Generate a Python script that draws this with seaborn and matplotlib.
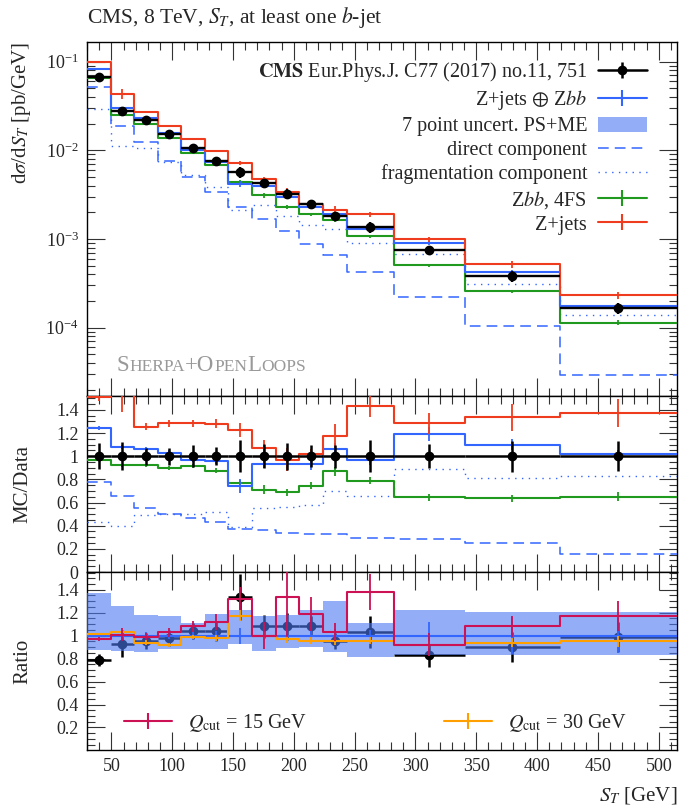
import numpy as np
import matplotlib
matplotlib.use("Agg")
import matplotlib.pyplot as plt
from matplotlib.lines import Line2D
from matplotlib.patches import Patch
from matplotlib.ticker import MultipleLocator, LogLocator, NullFormatter, FuncFormatter
import seaborn as sns

# bin edges in S_T [GeV]
edges = [30, 49.4, 68.6, 88, 107.5, 126.8, 146, 165.5, 185, 204.3, 224, 243.3, 282, 340.5, 418.5, 515]

# top panel: dsigma/dS_T [pb/GeV]
data_xs = [0.0664, 0.0276, 0.0219, 0.0151, 0.0105, 0.0076, 0.0057, 0.0043, 0.00325, 0.00248,
           0.0018, 0.00136, 0.00076, 0.00038, 0.000166]
zjets_zbb = [0.0823, 0.0296, 0.0234, 0.0155, 0.0102, 0.0073, 0.0042, 0.0040, 0.0030, 0.0023,
             0.0019, 0.00131, 0.0009, 0.000425, 0.000174]
direct = [0.052, 0.0188, 0.0123, 0.0076, 0.0050, 0.0034, 0.0023, 0.0017, 0.00122, 0.00087,
          0.00066, 0.00042, 0.00022, 0.000104, 2.9e-5]
frag = [0.029, 0.0113, 0.0107, 0.0074, 0.0052, 0.0039, 0.0021, 0.0024, 0.0018, 0.00143,
        0.00128, 0.0009, 0.00068, 0.00031, 0.00014]
zbb_4fs = [0.0646, 0.0253, 0.0200, 0.0136, 0.0094, 0.0068, 0.0044, 0.0031, 0.0023, 0.0019,
           0.00163, 0.00108, 0.000505, 0.000257, 0.000114]
zjets = [0.098, 0.043, 0.0271, 0.0188, 0.0133, 0.0098, 0.0072, 0.0047, 0.0034, 0.0025,
         0.00215, 0.0019, 0.00099, 0.00052, 0.000232]

# middle panel: MC / Data
data_relerr = [0.11, 0.12, 0.075, 0.075, 0.095, 0.08, 0.14, 0.105, 0.115, 0.095, 0.10, 0.14, 0.105, 0.135, 0.13]
r_zjets = [1.51, 1.58, 1.255, 1.285, 1.285, 1.28, 1.23, 1.07, 0.97, 1.015, 1.175, 1.43, 1.285, 1.335, 1.37]
r_zjets_err = [0.03, 0.2, 0.03, 0.03, 0.03, 0.04, 0.06, 0.07, 0.1, 0.05, 0.1, 0.09, 0.09, 0.12, 0.12]
r_blue = [1.243, 1.08, 1.06, 1.03, 0.97, 0.96, 0.74, 0.93, 0.93, 0.93, 1.06, 0.97, 1.19, 1.10, 1.015]
r_blue_err = [0.02, 0.02, 0.02, 0.02, 0.02, 0.03, 0.06, 0.03, 0.04, 0.05, 0.05, 0.05, 0.06, 0.05, 0.04]
r_green = [0.965, 0.92, 0.92, 0.90, 0.915, 0.875, 0.765, 0.71, 0.69, 0.745, 0.87, 0.79, 0.645, 0.635, 0.65]
r_green_err = [0.01, 0.015, 0.015, 0.015, 0.02, 0.02, 0.03, 0.04, 0.03, 0.03, 0.04, 0.03, 0.03, 0.03, 0.04]
r_direct = [0.78, 0.66, 0.55, 0.50, 0.47, 0.43, 0.37, 0.36, 0.34, 0.33, 0.33, 0.29, 0.285, 0.25, 0.155]
r_frag = [0.43, 0.40, 0.49, 0.50, 0.50, 0.52, 0.385, 0.55, 0.56, 0.575, 0.70, 0.66, 0.89, 0.815, 0.83]

# bottom panel: ratio to Z+jets (+) Zbb
band_lo = [0.875, 0.87, 0.86, 0.88, 0.88, 0.88, 0.93, 0.87, 0.89, 0.90, 0.86, 0.81, 0.83, 0.83, 0.83]
band_hi = [1.37, 1.26, 1.18, 1.17, 1.11, 1.19, 1.225, 1.17, 1.18, 1.22, 1.30, 1.11, 1.225, 1.21, 1.21]
ref_err = [0.02, 0.04, 0.03, 0.03, 0.04, 0.04, 0.07, 0.04, 0.05, 0.05, 0.06, 0.05, 0.12, 0.16, 0.15]
data_ratio = [0.787, 0.93, 0.95, 0.98, 1.04, 1.04, 1.34, 1.08, 1.08, 1.085, 0.95, 1.035, 0.83, 0.90, 0.99]
data_ratio_err = [0.05, 0.12, 0.07, 0.07, 0.07, 0.09, 0.2, 0.1, 0.12, 0.09, 0.07, 0.14, 0.1, 0.13, 0.13]
q15 = [0.97, 1.01, 0.99, 1.03, 1.08, 1.12, 1.32, 1.0, 1.34, 1.19, 1.03, 1.38, 0.92, 1.08, 1.17]
q15_err = [0.02, 0.06, 0.03, 0.04, 0.05, 0.07, 0.1, 0.12, 0.35, 0.15, 0.08, 0.16, 0.1, 0.09, 0.13]
q30 = [1.015, 1.03, 0.94, 0.92, 0.99, 0.98, 1.175, 1.0, 0.97, 0.955, 0.95, 0.955, 0.92, 0.94, 0.95]
q30_err = [0.01, 0.02, 0.02, 0.02, 0.02, 0.03, 0.05, 0.03, 0.03, 0.03, 0.03, 0.03, 0.03, 0.04, 0.05]

BLUE = '#3366ff'
RED = '#f03c1e'
GREEN = '#1f9a1f'
CRIMSON = '#cc1155'
ORANGE = '#ffa000'
BAND = '#4c78f0'

sns.set_theme(style="ticks")
plt.rcParams['font.family'] = ['Liberation Serif', 'DejaVu Serif']
plt.rcParams['mathtext.fontset'] = 'stix'

edges_a = np.array(edges)
centers = 0.5 * (edges_a[1:] + edges_a[:-1])
halfw = 0.5 * (edges_a[1:] - edges_a[:-1])


def steps(ax, vals, color, dashes=None, lw=1.5, z=3):
    y = np.append(vals, vals[-1])
    sns.lineplot(x=edges, y=y, ax=ax, color=color, drawstyle='steps-post',
                 linewidth=lw, estimator=None, sort=False, zorder=z)
    if dashes is not None:
        ax.lines[-1].set_dashes(dashes)


def ticks(ax, vals, errs, color, lw=1.3, z=3):
    ax.errorbar(centers, vals, yerr=errs, fmt='none', ecolor=color, elinewidth=lw,
                capsize=0, zorder=z)


fig = plt.figure(figsize=(7, 8.1), dpi=100)
ax1 = fig.add_axes([0.1243, 0.5111, 0.8429, 0.4370])
ax2 = fig.add_axes([0.1243, 0.2938, 0.8429, 0.2173])
ax3 = fig.add_axes([0.1243, 0.0741, 0.8429, 0.2198])

# ---------- top panel ----------
ax1.set_yscale('log')
steps(ax1, direct, BLUE, dashes=(7, 4), lw=1.1)
steps(ax1, frag, BLUE, dashes=(1, 3.9), lw=1.0)
for vals, rv, re, col in [(zbb_4fs, r_green, r_green_err, GREEN),
                          (zjets_zbb, r_blue, r_blue_err, BLUE),
                          (zjets, r_zjets, r_zjets_err, RED)]:
    steps(ax1, vals, col)
    ticks(ax1, vals, np.array(vals) * np.array(re) / np.array(rv), col)
ax1.errorbar(centers, data_xs, xerr=halfw, yerr=np.array(data_xs) * np.array(data_relerr),
             fmt='o', color='black', ms=6, elinewidth=1.7, capsize=0, zorder=6)
ax1.set_ylim(1.7e-5, 0.166)
ax1.yaxis.set_major_locator(LogLocator(base=10))
ax1.yaxis.set_minor_locator(LogLocator(base=10, subs=np.arange(2, 10)))
ax1.yaxis.set_minor_formatter(NullFormatter())
ax1.set_ylabel(r'd$\sigma$/d$S_T$ [pb/GeV]', fontsize=15, loc='top')

# small caps label, pieces laid out on a common baseline
renderer = fig.canvas.get_renderer()
pieces = [('S', 16.5), ('HERPA', 12.5), ('+O', 16.5), ('PEN', 12.5), ('L', 16.5), ('OOPS', 12.5)]
xpos = 0.05
for txt, sz in pieces:
    t = ax1.text(xpos, 0.07, txt, transform=ax1.transAxes, fontsize=sz, color='#999999',
                 ha='left', va='baseline')
    bb = t.get_window_extent(renderer)
    xpos = ax1.transAxes.inverted().transform((bb.x1, bb.y0))[0]

leg_handles = [
    (Line2D([], [], color='black', lw=1.8, marker='|', ms=11, mew=1.8),
     Line2D([], [], color='black', marker='o', ms=6, ls='none')),
    Line2D([], [], color=BLUE, lw=1.5, marker='|', ms=11, mew=1.5),
    Patch(facecolor=BAND, alpha=0.6, lw=0),
    Line2D([], [], color=BLUE, lw=1.1, dashes=(7, 4)),
    Line2D([], [], color=BLUE, lw=1.0, dashes=(1, 3.9)),
    Line2D([], [], color=GREEN, lw=1.5, marker='|', ms=11, mew=1.5),
    Line2D([], [], color=RED, lw=1.5, marker='|', ms=11, mew=1.5),
]
leg_labels = [
    r'$\mathbf{CMS}$ Eur.Phys.J. C77 (2017) no.11, 751',
    r'Z+jets $\oplus$ Z$bb$',
    '7 point uncert. PS+ME',
    'direct component',
    'fragmentation component',
    r'Z$bb$, 4FS',
    'Z+jets',
]
ax1.legend(leg_handles, leg_labels, loc='upper right', bbox_to_anchor=(0.962, 0.972),
           borderaxespad=0, frameon=False, markerfirst=False, fontsize=14.5,
           handlelength=2.4, handleheight=0.75, labelspacing=0.22, handletextpad=0.55)

# ---------- middle panel ----------
steps(ax2, r_direct, BLUE, dashes=(7, 4), lw=1.1)
steps(ax2, r_frag, BLUE, dashes=(1, 3.9), lw=1.0)
for vals, errs, col in [(r_green, r_green_err, GREEN), (r_blue, r_blue_err, BLUE),
                        (r_zjets, r_zjets_err, RED)]:
    steps(ax2, vals, col)
    ticks(ax2, vals, errs, col)
ax2.errorbar(centers, np.ones(len(centers)), xerr=halfw, yerr=data_relerr, fmt='o',
             color='black', ms=6, elinewidth=1.8, capsize=0, zorder=6)
ax2.set_ylim(0, 1.52)
ax2.yaxis.set_major_locator(MultipleLocator(0.2))
ax2.yaxis.set_minor_locator(MultipleLocator(0.05))
ax2.set_ylabel('MC/Data', fontsize=15)

# ---------- bottom panel ----------
ax3.errorbar(centers, data_ratio, xerr=halfw, yerr=data_ratio_err, fmt='o', color='black',
             ms=6, elinewidth=1.8, capsize=0, zorder=3)
ax3.fill_between(edges, np.append(band_lo, band_lo[-1]), np.append(band_hi, band_hi[-1]),
                 step='post', color=BAND, alpha=0.6, lw=0, zorder=4)
steps(ax3, np.ones(len(centers)), BLUE, z=5)
ticks(ax3, np.ones(len(centers)), ref_err, BLUE, z=5)
steps(ax3, q30, ORANGE, z=6)
ticks(ax3, q30, q30_err, ORANGE, z=6)
steps(ax3, q15, CRIMSON, z=7)
ticks(ax3, q15, q15_err, CRIMSON, z=7)
ax3.set_ylim(0.004, 1.555)
ax3.yaxis.set_major_locator(MultipleLocator(0.2))
ax3.yaxis.set_minor_locator(MultipleLocator(0.05))
ax3.set_ylabel('Ratio', fontsize=15)
ax3.set_xlabel(r'$S_T$ [GeV]', fontsize=15, loc='right', labelpad=7)

l1 = ax3.legend([Line2D([], [], color=CRIMSON, lw=1.5, marker='|', ms=11, mew=1.5)],
                [r'$Q_\mathrm{cut}$ = 15 GeV'], loc='lower left', bbox_to_anchor=(0.0486, 0.045),
                borderaxespad=0, frameon=False, fontsize=14.5, handlelength=2.4, handletextpad=0.8)
ax3.add_artist(l1)
ax3.legend([Line2D([], [], color=ORANGE, lw=1.5, marker='|', ms=11, mew=1.5)],
           [r'$Q_\mathrm{cut}$ = 30 GeV'], loc='lower right', bbox_to_anchor=(0.929, 0.045),
           borderaxespad=0, frameon=False, fontsize=14.5, handlelength=2.4, handletextpad=0.8)

fmt = FuncFormatter(lambda v, p: '%g' % round(v, 2))
for ax in (ax1, ax2, ax3):
    ax.set_xlim(30, 515)
    ax.xaxis.set_major_locator(MultipleLocator(50))
    ax.xaxis.set_minor_locator(MultipleLocator(10))
    ax.tick_params(which='both', direction='in', top=True, right=True, width=0.8,
                   color='#333333', labelsize=13, pad=6)
    ax.tick_params(which='major', length=13)
    ax.tick_params(which='minor', length=6)
    for s in ax.spines.values():
        s.set_linewidth(1.0)
        s.set_color('black')
    ax.yaxis.set_label_coords(-0.092, 0.5)
for ax in (ax1, ax2):
    ax.tick_params(labelbottom=False)
for ax in (ax2, ax3):
    ax.yaxis.set_major_formatter(fmt)
ax1.yaxis.set_label_coords(-0.092, 1.0)

fig.text(0.1243, 0.979, r'CMS, 8 TeV, $S_T$, at least one $b$-jet', fontsize=15.5, va='center')

fig.savefig('out.png', dpi=100)
